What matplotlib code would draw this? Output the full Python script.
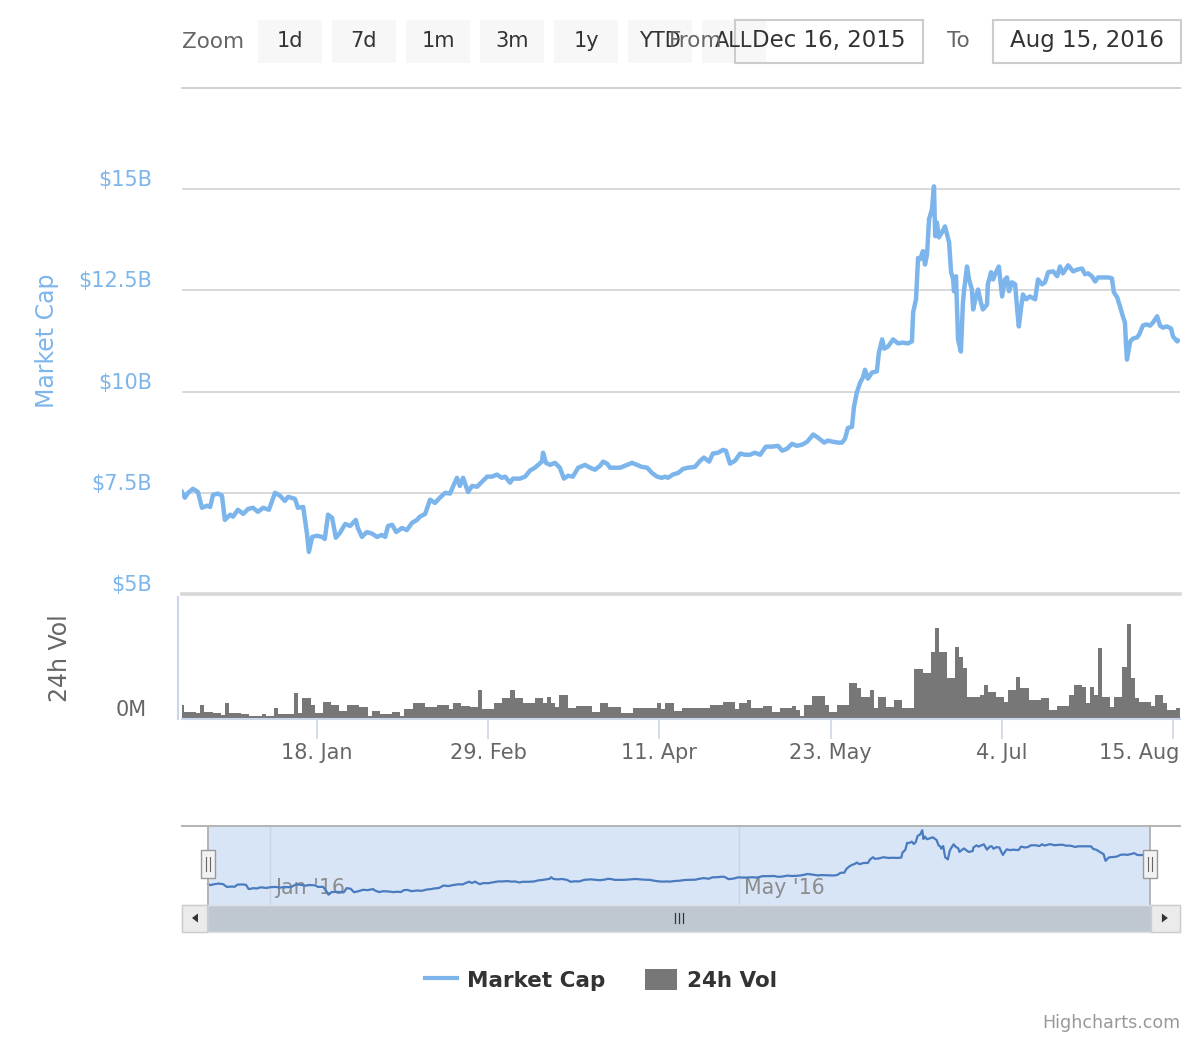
import matplotlib
matplotlib.use("Agg")
import matplotlib.pyplot as plt
import matplotlib.dates as mdates
from matplotlib.patches import Rectangle, Polygon, Patch
from matplotlib.lines import Line2D
from matplotlib.transforms import ScaledTranslation, blended_transform_factory
import pandas as pd

# --- data ------------------------------------------------------------------
start = pd.Timestamp("2015-12-16")

# market cap: days after 16 Dec 2015, value in $ billion
mcap_day = [
    0.0, 0.7, 1.5, 2.7, 3.9, 4.9, 6.1, 6.9, 7.6, 8.8,
    9.8, 10.5, 11.8, 12.5, 13.7, 15.0, 16.2, 17.4, 18.6, 19.9,
    21.3, 22.8, 24.0, 25.2, 26.0, 27.7, 28.4, 29.7, 30.6, 31.1,
    31.9, 33.1, 34.3, 35.0, 35.8, 36.8, 37.7, 38.7, 40.0, 41.2,
    42.6, 43.1, 44.1, 45.3, 46.6, 47.8, 49.0, 49.8, 50.5, 51.5,
    52.5, 53.9, 55.1, 56.4, 57.6, 58.3, 59.6, 60.8, 62.0, 63.2,
    64.5, 65.7, 66.4, 67.4, 68.1, 68.9, 70.1, 71.1, 72.3, 73.5,
    74.8, 76.0, 77.2, 78.4, 79.2, 80.4, 81.1, 82.8, 84.1, 85.3,
    86.5, 87.3, 88.2, 88.5, 89.2, 90.2, 91.4, 92.6, 93.6, 94.6,
    95.8, 97.1, 98.8, 100.0, 101.2, 102.5, 103.2, 104.2, 104.9, 106.1,
    107.4, 109.1, 110.3, 111.5, 112.7, 114.0, 115.2, 116.4, 117.6, 118.4,
    119.1, 120.3, 121.6, 122.8, 124.0, 125.7, 127.0, 127.9, 129.2, 130.1,
    131.4, 132.6, 133.3, 134.3, 135.5, 136.8, 138.0, 139.2, 140.4, 141.7,
    143.1, 144.6, 146.1, 147.1, 148.3, 149.5, 150.7, 152.0, 153.2, 154.7,
    155.9, 157.4, 158.3, 159.6, 160.8, 161.8, 162.5, 163.2, 164.2, 164.7,
    165.4, 166.2, 166.9, 167.4, 168.1, 169.1, 170.3, 170.8, 171.6, 172.1,
    173.0, 174.3, 175.5, 176.7, 177.9, 178.9, 179.2, 179.9, 180.4, 180.9,
    181.6, 182.1, 182.6, 183.1, 183.8, 184.3, 184.6, 185.0, 185.5, 186.3,
    187.0, 187.5, 188.0, 188.5, 189.0, 189.2, 189.7, 190.2, 190.9, 191.4,
    191.7, 192.4, 192.9, 193.6, 193.9, 194.6, 195.1, 195.8, 196.3, 197.3,
    197.5, 198.3, 198.8, 199.5, 200.2, 201.0, 201.7, 202.2, 202.7, 203.4,
    204.2, 204.7, 205.1, 205.6, 206.1, 206.9, 207.8, 209.1, 209.8, 210.8,
    211.5, 212.3, 213.5, 214.5, 215.2, 215.9, 217.2, 218.4, 219.6, 220.6,
    221.3, 222.1, 223.0, 223.8, 224.5, 225.7, 227.0, 227.9, 228.4, 229.2,
    229.9, 230.6, 231.1, 231.4, 231.6, 232.4, 233.1, 234.1, 234.6, 235.5,
    236.3, 237.3, 238.0, 239.0, 239.7, 240.4, 241.4, 242.4, 242.9, 243.9, 244.1,
]
mcap_bn = [
    7.52, 7.38, 7.50, 7.60, 7.52, 7.13, 7.18, 7.15, 7.45, 7.48,
    7.43, 6.83, 6.96, 6.91, 7.08, 6.98, 7.10, 7.13, 7.03, 7.13,
    7.08, 7.50, 7.43, 7.30, 7.40, 7.35, 7.13, 7.15, 6.51, 6.04,
    6.41, 6.44, 6.41, 6.36, 6.96, 6.88, 6.39, 6.51, 6.73, 6.68,
    6.83, 6.63, 6.41, 6.53, 6.49, 6.41, 6.46, 6.41, 6.68, 6.71,
    6.53, 6.63, 6.58, 6.76, 6.83, 6.91, 6.98, 7.33, 7.25, 7.38,
    7.50, 7.48, 7.65, 7.87, 7.67, 7.87, 7.52, 7.67, 7.65, 7.77,
    7.90, 7.90, 7.95, 7.87, 7.90, 7.75, 7.85, 7.85, 7.90, 8.05,
    8.12, 8.19, 8.27, 8.49, 8.24, 8.19, 8.24, 8.12, 7.85, 7.92,
    7.90, 8.12, 8.19, 8.12, 8.07, 8.17, 8.27, 8.22, 8.12, 8.12,
    8.12, 8.19, 8.24, 8.19, 8.14, 8.12, 7.99, 7.90, 7.87, 7.90,
    7.87, 7.95, 7.99, 8.09, 8.12, 8.14, 8.29, 8.37, 8.27, 8.47,
    8.49, 8.56, 8.54, 8.22, 8.29, 8.47, 8.44, 8.44, 8.49, 8.44,
    8.64, 8.64, 8.66, 8.54, 8.59, 8.71, 8.66, 8.69, 8.76, 8.94,
    8.86, 8.74, 8.79, 8.76, 8.74, 8.74, 8.84, 9.10, 9.13, 9.63,
    9.98, 10.22, 10.35, 10.54, 10.32, 10.47, 10.50, 10.96, 11.29, 11.06,
    11.11, 11.29, 11.19, 11.21, 11.19, 11.24, 11.96, 12.28, 13.30, 13.27,
    13.47, 13.14, 13.39, 14.26, 14.50, 15.07, 13.84, 14.18, 13.81, 13.94,
    14.08, 13.89, 13.69, 12.95, 12.77, 12.48, 12.85, 11.29, 10.99, 12.20,
    12.52, 13.09, 12.77, 12.52, 12.03, 12.35, 12.52, 12.20, 12.03, 12.15,
    12.65, 12.95, 12.77, 12.95, 13.09, 12.35, 12.77, 12.82, 12.48, 12.70,
    12.65, 12.03, 11.61, 12.03, 12.40, 12.28, 12.35, 12.28, 12.77, 12.65,
    12.70, 12.95, 12.97, 12.85, 13.09, 12.92, 13.12, 12.97, 13.02, 13.04,
    12.90, 12.92, 12.85, 12.72, 12.82, 12.82, 12.82, 12.80, 12.45, 12.33,
    12.10, 11.86, 11.71, 11.11, 10.79, 11.24, 11.31, 11.34, 11.41, 11.63,
    11.66, 11.63, 11.71, 11.86, 11.63, 11.58, 11.61, 11.56, 11.36, 11.24, 11.26,
]

# 24h volume, one value per day from 16 Dec 2015, in $ million
vol_m = [
    70, 35, 35, 35, 30, 70, 35, 35, 30, 30,
    20, 80, 30, 30, 30, 25, 25, 15, 15, 15,
    25, 15, 15, 55, 25, 25, 25, 25, 130, 30,
    105, 105, 70, 30, 30, 85, 85, 70, 70, 40,
    40, 70, 70, 70, 60, 60, 15, 40, 40, 25,
    25, 25, 35, 35, 15, 50, 50, 80, 80, 80,
    60, 60, 60, 70, 70, 70, 50, 80, 80, 65,
    65, 60, 60, 145, 50, 50, 50, 80, 80, 105,
    105, 145, 105, 105, 80, 80, 80, 105, 105, 80,
    110, 80, 60, 120, 120, 55, 55, 65, 65, 65,
    65, 35, 35, 80, 80, 60, 60, 60, 30, 30,
    30, 55, 55, 55, 55, 55, 55, 80, 50, 80,
    80, 40, 40, 55, 55, 55, 55, 55, 55, 55,
    70, 70, 70, 85, 85, 85, 50, 80, 80, 95,
    55, 55, 55, 65, 65, 35, 35, 55, 55, 55,
    65, 45, 15, 70, 70, 115, 115, 115, 70, 35,
    35, 70, 70, 70, 180, 180, 155, 110, 110, 145,
    55, 110, 110, 60, 60, 95, 95, 55, 55, 55,
    250, 250, 230, 230, 335, 455, 335, 335, 205, 205,
    360, 310, 255, 110, 110, 110, 120, 170, 135, 135,
    110, 110, 85, 145, 145, 210, 155, 155, 95, 95,
    95, 105, 105, 45, 45, 65, 65, 65, 120, 170,
    170, 160, 80, 160, 120, 355, 110, 110, 60, 110,
    110, 260, 475, 205, 105, 85, 85, 85, 65, 120,
    120, 80, 45, 45, 55,
]

mcap_ticks = [5, 7.5, 10, 12.5, 15]
mcap_labels = ["$5B", "$7.5B", "$10B", "$12.5B", "$15B"]
x_tick_dates = ["2016-01-18", "2016-02-29", "2016-04-11", "2016-05-23", "2016-07-04", "2016-08-15"]
nav_tick_dates = ["2016-01-01", "2016-05-01"]
nav_tick_labels = ["Jan '16", "May '16"]
zoom_buttons = ["1d", "7d", "1m", "3m", "1y", "YTD", "ALL"]
from_text = "Dec 16, 2015"
to_text = "Aug 15, 2016"

mcap_dates = start + pd.to_timedelta(mcap_day, unit="D")
vol_dates = pd.date_range(start, periods=len(vol_m), freq="D")
sel_start = pd.Timestamp("2015-12-16")
sel_end = pd.Timestamp("2016-08-15")

BLUE = "#7cb5ec"
GREY_TXT = "#666666"
DARK = "#333333"
GRID = "#d8d8d8"
AXIS = "#ccd6eb"

plt.rcParams["font.family"] = ["DejaVu Sans"]

W, H = 1200, 1040
fig = plt.figure(figsize=(12, 10.4), dpi=100)


def fx(x):
    return x / W


def fy(y):
    return 1 - y / H


def box(x0, y0, x1, y1, **kw):
    r = Rectangle((fx(x0), fy(y1)), fx(x1) - fx(x0), fy(y0) - fy(y1),
                  transform=fig.transFigure, **kw)
    fig.add_artist(r)
    return r


def vline(x, y0, y1, **kw):
    fig.add_artist(Line2D([fx(x), fx(x)], [fy(y0), fy(y1)], transform=fig.transFigure, **kw))


x_lo = start
x_hi = start + pd.Timedelta(days=244.6)
up = ScaledTranslation(0, 0.11, fig.dpi_scale_trans)

# --- market cap pane ---------------------------------------------------------
ax = fig.add_axes([fx(182), fy(594), fx(1180) - fx(182), fy(88) - fy(594)])
ax.plot(mcap_dates, mcap_bn, color=BLUE, lw=3.2, solid_joinstyle="round", zorder=3)
ax.set_xlim(x_lo, x_hi)
ax.set_ylim(5, 17.5)
ax.set_yticks(mcap_ticks)
ax.set_yticklabels(mcap_labels)
ax.grid(axis="y", color=GRID, lw=1.4)
ax.set_axisbelow(True)
for s in ["left", "right"]:
    ax.spines[s].set_visible(False)
ax.spines["top"].set_color("#d0d0d0")
ax.spines["top"].set_linewidth(1.4)
ax.spines["bottom"].set_color(GRID)
ax.spines["bottom"].set_linewidth(2.6)
ax.tick_params(axis="y", length=0, pad=21.6, labelsize=15, labelcolor=BLUE)
ax.tick_params(axis="x", length=0, labelbottom=False)
for lab in ax.get_yticklabels():
    lab.set_transform(lab.get_transform() + up)
ax.set_ylabel("Market Cap", color=BLUE, fontsize=17)
ax.yaxis.set_label_coords((59 - 182) / 998, 0.5)

# --- volume pane -------------------------------------------------------------
axv = fig.add_axes([fx(182), fy(719), fx(1180) - fx(182), fy(597) - fy(719)])
axv.bar(vol_dates, vol_m, width=1.0, color="#777777", linewidth=0)
axv.set_xlim(x_lo, x_hi)
axv.set_ylim(0, 610)
axv.set_yticks([0])
axv.set_yticklabels(["0M"])
for s in ["left", "right", "top"]:
    axv.spines[s].set_visible(False)
axv.spines["bottom"].set_color(AXIS)
axv.spines["bottom"].set_linewidth(1.5)
axv.tick_params(axis="y", length=0, pad=25.2, labelsize=15, labelcolor=GREY_TXT)
for lab in axv.get_yticklabels():
    lab.set_transform(lab.get_transform() + up)
tick_ts = pd.to_datetime(x_tick_dates)
axv.set_xticks(tick_ts)
axv.set_xticklabels([f"{t.day}. {t:%b}" for t in tick_ts])
axv.tick_params(axis="x", length=14.4, width=1.2, color=AXIS, pad=3,
                labelsize=15, labelcolor=GREY_TXT)
# last label is pushed inside the plot edge, like the original
last = axv.get_xticklabels()[-1]
last.set_horizontalalignment("right")
last.set_transform(last.get_transform() + ScaledTranslation(0.06, 0, fig.dpi_scale_trans))
axv.set_ylabel("24h Vol", color=GREY_TXT, fontsize=17)
axv.yaxis.set_label_coords((72 - 182) / 998, 0.5)
vline(178, 597, 719, color=AXIS, lw=1.5)

# --- navigator ---------------------------------------------------------------
axn = fig.add_axes([fx(182), fy(905), fx(1180) - fx(182), fy(826) - fy(905)])
axn.set_xlim(start - pd.Timedelta(days=6.7), start + pd.Timedelta(days=250.8))
axn.set_ylim(4.6, 15.66)
axn.axvspan(sel_start, sel_end, color="#d7e5f7", lw=0, zorder=0)
blend = blended_transform_factory(axn.transData, axn.transAxes)
for d, lab in zip(pd.to_datetime(nav_tick_dates), nav_tick_labels):
    axn.axvline(d, color="#c9d5e4", lw=1, zorder=1)
    axn.text(d, 0.215, lab, transform=blend + ScaledTranslation(0.05, 0, fig.dpi_scale_trans),
             ha="left", va="center", fontsize=14.8, color="#8c8c8c", zorder=1)
axn.plot(mcap_dates, mcap_bn, color="#4a7bbf", lw=1.6, zorder=2)
for d in [sel_start, sel_end]:
    axn.axvline(d, color="#b3b3b3", lw=1.4, zorder=3)
for s in ["left", "right", "bottom"]:
    axn.spines[s].set_visible(False)
axn.spines["top"].set_color("#b3b3b3")
axn.spines["top"].set_linewidth(1.4)
axn.set_xticks([])
axn.set_yticks([])

hx0 = axn.transData.transform((mdates.date2num(sel_start), 0))[0]
hx1 = axn.transData.transform((mdates.date2num(sel_end), 0))[0]

# scrollbar
box(182, 905, 1180, 932, fc="#f2f2f2", ec="#e0e0e0", lw=1, zorder=4)
box(hx0, 906, hx1, 931, fc="#bfc8d1", ec="#bfc8d1", lw=0.5, zorder=5)
box(182, 905, hx0 - 1, 932, fc="#ebebeb", ec="#cccccc", lw=1, zorder=5)
box(hx1 + 1, 905, 1180, 932, fc="#ebebeb", ec="#cccccc", lw=1, zorder=5)
lcx = (182 + hx0) / 2
rcx = (hx1 + 1180) / 2
fig.add_artist(Polygon([(fx(lcx - 3), fy(918)), (fx(lcx + 3), fy(913.5)), (fx(lcx + 3), fy(922.5))],
                       closed=True, transform=fig.transFigure, fc=DARK, ec="none", zorder=6))
fig.add_artist(Polygon([(fx(rcx + 3), fy(918)), (fx(rcx - 3), fy(913.5)), (fx(rcx - 3), fy(922.5))],
                       closed=True, transform=fig.transFigure, fc=DARK, ec="none", zorder=6))
cx = (hx0 + hx1) / 2
for off in (-4, 0, 4):
    vline(cx + off, 913, 923, color=DARK, lw=0.9, zorder=6)

# navigator handles
for hx in (hx0, hx1):
    box(hx - 7, 850, hx + 7, 878, fc="#f2f2f2", ec="#999999", lw=1, zorder=7)
    for off in (-2, 2):
        vline(hx + off, 857, 871, color=GREY_TXT, lw=0.8, zorder=8)

# --- range selector ----------------------------------------------------------
fig.text(fx(182), fy(42), "Zoom", ha="left", va="center", fontsize=15.5, color=GREY_TXT)
for i, lab in enumerate(zoom_buttons):
    bx = 258 + 74 * i
    box(bx, 20, bx + 64, 63, fc="#f7f7f7", ec="none", zorder=1)
    fig.text(fx(bx + 32), fy(41), lab, ha="center", va="center", fontsize=15,
             color=DARK, zorder=3)
fig.text(fx(722), fy(41), "From", ha="right", va="center", fontsize=15.5,
         color=GREY_TXT, zorder=3)
box(735, 20, 923, 63, fc="none", ec="#cccccc", lw=1.5, zorder=2)
fig.text(fx(829), fy(41), from_text, ha="center", va="center", fontsize=16.5,
         color=DARK, zorder=3)
fig.text(fx(947), fy(41), "To", ha="left", va="center", fontsize=15.5,
         color=GREY_TXT, zorder=3)
box(993, 20, 1181, 63, fc="white", ec="#cccccc", lw=1.5, zorder=2)
fig.text(fx(1087), fy(41), to_text, ha="center", va="center", fontsize=16.5,
         color=DARK, zorder=3)

# --- legend and credits ------------------------------------------------------
handles = [Line2D([], [], color=BLUE, lw=3), Patch(facecolor="#777777")]
fig.legend(handles, ["Market Cap", "24h Vol"], loc="center",
           bbox_to_anchor=(fx(601), fy(980)), ncol=2, frameon=False,
           prop={"weight": "bold", "size": 15.5}, labelcolor=DARK,
           handlelength=1.5, handleheight=1.15, handletextpad=0.47, columnspacing=1.8)
fig.text(fx(1180), fy(1023), "Highcharts.com", ha="right", va="center",
         fontsize=12.6, color="#999999")

fig.savefig("out.png", dpi=100)
